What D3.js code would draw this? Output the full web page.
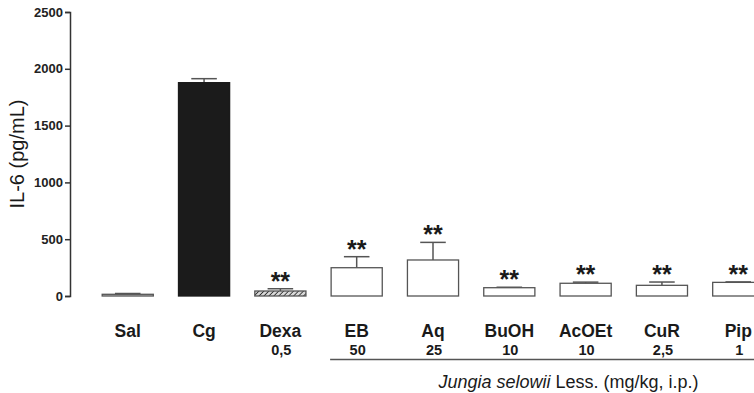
<!DOCTYPE html>
<html lang="en">
<head>
    <meta charset="UTF-8">
    <title>IL-6 levels</title>
    <script src="https://d3js.org/d3.v7.min.js"></script>
    <style>
        body {
            margin: 0;
            background-color: #ffffff;
            font-family: 'Liberation Sans', Arial, sans-serif;
        }
        .axis path, .axis line {
            stroke: #333;
            stroke-width: 1.5px;
        }
        .axis text {
            font-family: 'Liberation Sans', Arial, sans-serif;
            font-size: 13px;
            font-weight: bold;
            fill: #222;
        }
        .cat {
            font-size: 17.5px;
            font-weight: bold;
            fill: #1a1a1a;
        }
        .dose {
            font-size: 14.5px;
            font-weight: bold;
            fill: #1a1a1a;
        }
        .stars {
            font-size: 25px;
            font-weight: bold;
            fill: #1a1a1a;
        }
    </style>
</head>
<body>
    <div id="chart"></div>
    <script>
        // Data
        const groups = ["Sal", "Cg", "Dexa", "EB", "Aq", "BuOH", "AcOEt", "CuR", "Pip"];
        const doses = ["", "", "0,5", "50", "25", "10", "10", "2,5", "1"];
        const means = [15, 1878, 44, 249, 317, 73, 112, 94, 120];
        const errors = [7, 35, 20, 97, 155, 4, 10, 29, 4];
        const signif = ["", "", "**", "**", "**", "**", "**", "**", "**"];
        const yTicks = [0, 500, 1000, 1500, 2000, 2500];
        const extractGroups = ["EB", "Aq", "BuOH", "AcOEt", "CuR", "Pip"];

        const data = groups.map((g, i) => ({
            group: g, dose: doses[i], mean: means[i], err: errors[i], sig: signif[i]
        }));

        const W = 754, H = 393;

        const svg = d3.select("#chart")
            .append("svg")
            .attr("width", W)
            .attr("height", H);

        // hatch pattern for Dexa
        const defs = svg.append("defs");
        const pat = defs.append("pattern")
            .attr("id", "hatch")
            .attr("patternUnits", "userSpaceOnUse")
            .attr("width", 3.5)
            .attr("height", 3.5)
            .attr("patternTransform", "rotate(45)");
        pat.append("rect").attr("width", 3.5).attr("height", 3.5).attr("fill", "#d8d8d8");
        pat.append("line")
            .attr("x1", 0).attr("y1", 0).attr("x2", 0).attr("y2", 3.5)
            .attr("stroke", "#222").attr("stroke-width", 1.6);

        const x = d3.scaleBand()
            .domain(groups)
            .range([77, 789])
            .padding(0.33);

        const y = d3.scaleLinear()
            .domain([0, 2500])
            .range([296, 12]);

        // Y axis
        svg.append("g")
            .attr("class", "axis")
            .attr("transform", "translate(70,0)")
            .call(d3.axisLeft(y).tickValues(yTicks).tickSize(5).tickPadding(2).tickFormat(d3.format("d")));

        svg.append("text")
            .attr("transform", `translate(24,${(y(2500) + y(0)) / 2}) rotate(-90)`)
            .attr("text-anchor", "middle")
            .style("font-size", "20px")
            .style("fill", "#1a1a1a")
            .text("IL-6 (pg/mL)");

        function barFill(g) {
            if (g === "Cg") return "#1b1b1b";
            if (g === "Dexa") return "url(#hatch)";
            if (g === "Sal") return "#d0d0d0";
            return "#ffffff";
        }

        // error bars (drawn first so the bar covers the lower half)
        const eb = svg.append("g");
        data.forEach(d => {
            const cx = x(d.group) + x.bandwidth() / 2;
            eb.append("line")
                .attr("x1", cx).attr("x2", cx)
                .attr("y1", y(d.mean)).attr("y2", y(d.mean + d.err))
                .attr("stroke", "#555").attr("stroke-width", 1.5);
            eb.append("line")
                .attr("x1", cx - x.bandwidth() / 4).attr("x2", cx + x.bandwidth() / 4)
                .attr("y1", y(d.mean + d.err)).attr("y2", y(d.mean + d.err))
                .attr("stroke", "#555").attr("stroke-width", 1.5);
        });

        // bars
        svg.append("g")
            .selectAll("rect")
            .data(data)
            .join("rect")
            .attr("x", d => x(d.group))
            .attr("y", d => y(d.mean))
            .attr("width", x.bandwidth())
            .attr("height", d => y(0) - y(d.mean))
            .attr("fill", d => barFill(d.group))
            .attr("stroke", d => d.group === "Cg" ? "#1b1b1b" : "#555")
            .attr("stroke-width", 1.3);

        // significance stars
        svg.append("g")
            .selectAll("text")
            .data(data.filter(d => d.sig))
            .join("text")
            .attr("class", "stars")
            .attr("x", d => x(d.group) + x.bandwidth() / 2)
            .attr("y", d => y(d.mean + d.err) + 1)
            .attr("text-anchor", "middle")
            .text(d => d.sig);

        // category and dose labels
        svg.append("g")
            .selectAll("text")
            .data(data)
            .join("text")
            .attr("class", "cat")
            .attr("x", d => x(d.group) + x.bandwidth() / 2)
            .attr("y", 336.5)
            .attr("text-anchor", "middle")
            .text(d => d.group);

        svg.append("g")
            .selectAll("text")
            .data(data.filter(d => d.dose))
            .join("text")
            .attr("class", "dose")
            .attr("x", d => x(d.group) + x.bandwidth() / 2 + 1)
            .attr("y", 355)
            .attr("text-anchor", "middle")
            .text(d => d.dose);

        // bracket line under the extracts
        const first = extractGroups[0], last = extractGroups[extractGroups.length - 1];
        svg.append("line")
            .attr("x1", x(first) - 1)
            .attr("x2", x(last) + x.bandwidth())
            .attr("y1", 359.5).attr("y2", 359.5)
            .attr("stroke", "#555").attr("stroke-width", 1.5);

        const lbl = svg.append("text")
            .attr("x", x("Aq") + 31)
            .attr("y", 388)
            .style("font-size", "18px")
            .style("fill", "#1a1a1a");
        lbl.append("tspan").style("font-style", "italic").text("Jungia selowii");
        lbl.append("tspan").text(" Less. (mg/kg, i.p.)");
    </script>
</body>
</html>
